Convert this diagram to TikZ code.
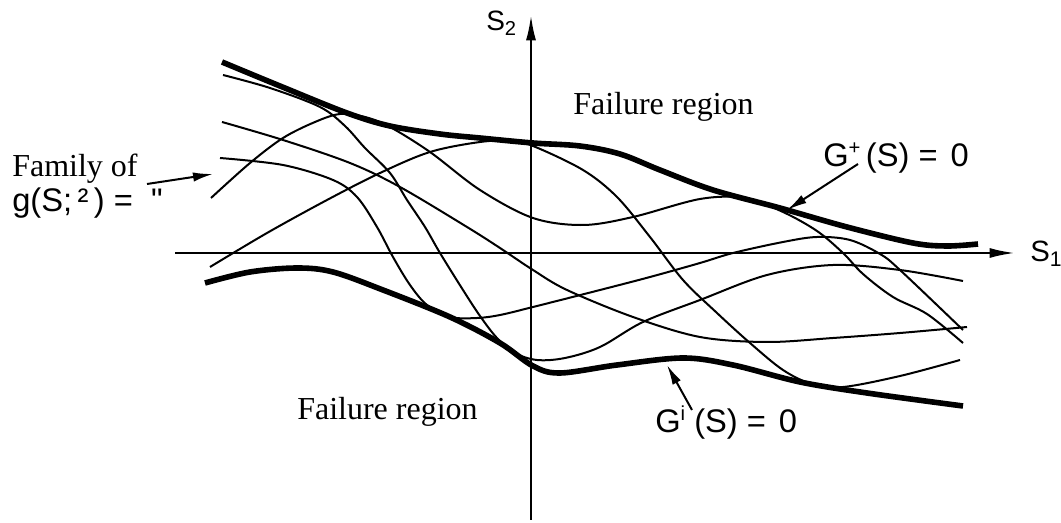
\documentclass[tikz,border=0pt]{standalone}
\usepackage{fontspec}
\setmainfont{Liberation Serif}
\setsansfont{Liberation Sans}
\newfontfamily\plainsans[Ligatures=ResetAll]{Liberation Sans}
\usetikzlibrary{arrows.meta}
\newcommand\mysub[1]{\raisebox{-0.3ex}{\scalebox{0.72}{#1}}}
\newcommand\mysup[1]{\raisebox{0.7ex}{\scalebox{0.62}{#1}}}
\begin{document}
\begin{tikzpicture}[x=0.75pt,y=-0.75pt,line join=round,
  thincurve/.style={line width=1.5pt},
  bound/.style={line width=4.2pt},
  axis/.style={line width=1.8pt,-{Latex[length=19pt,width=7.5pt]}},
  pointer/.style={line width=1.5pt,-{Latex[length=15pt,width=7pt]}},
  serif/.style={font=\fontsize{24}{28}\selectfont, inner sep=0pt, anchor=base west},
  sans/.style={font=\sffamily\fontsize{24.5}{28}\selectfont, inner sep=0pt, anchor=base west}]
\useasboundingbox (0,0) rectangle (1061,523);

% thin family of curves
\draw[thincurve] plot[smooth,tension=0.55] coordinates {(223,75) (270,88) (320,107) (345,126) (365,148) (390,173) (407,200) (425,227) (440,253) (463,290) (480,316) (497,338) (515,353) (537,360) (565,358) (600,347) (643,322) (700,300) (767,275) (833,265) (900,270) (963,281)};
\draw[thincurve] plot[smooth,tension=0.55] coordinates {(222,122) (283,140) (350,163) (400,187) (467,227) (500,248) (533,270) (567,290) (633,317) (700,337) (767,342) (833,338) (900,333) (967,327)};
\draw[thincurve] plot[smooth,tension=0.55] coordinates {(220,158) (283,165) (333,180) (357,197) (377,227) (393,257) (410,285) (427,305) (450,317) (477,318) (500,315) (533,307) (600,290) (650,277) (700,263) (733,253) (783,242) (817,237) (850,240) (880,254) (900,270) (963,330)};
\draw[thincurve] plot[smooth,tension=0.55] coordinates {(211,198) (250,163) (283,138) (315,122) (340,114) (365,117) (390,127) (430,152) (480,190) (533,218) (583,225) (633,217) (700,199) (745,198) (783,212) (817,231) (843,253) (863,274) (893,297) (927,314) (963,343)};
\draw[thincurve] plot[smooth,tension=0.55] coordinates {(210,267) (267,233) (327,200) (380,173) (430,152) (480,142) (510,141) (533,146) (583,170) (617,197) (650,237) (683,280) (717,313) (750,343) (783,370) (812,384) (843,387) (900,376) (960,360)};

% bounding limit-state curves
\draw[bound] plot[smooth,tension=0.55] coordinates {(222,62) (280,86) (347,113) (390,126) (440,134) (480,138) (533,143) (580,146) (620,154) (660,170) (713,190) (780,208) (847,227) (913,243) (947,246) (978,244)};
\draw[bound] plot[smooth,tension=0.55] coordinates {(205,283) (250,272) (297,268) (333,272) (383,290) (450,317) (500,343) (533,366) (560,373) (617,365) (683,358) (733,365) (800,382) (867,393) (963,406)};

% axes
\coordinate (xl) at (175,253);
\coordinate (xr) at (1015,253);
\coordinate (yb) at (531,520);
\coordinate (yt) at (531,15);
\draw[axis] (xl) -- (xr);
\draw[axis] (yb) -- (yt);
\node[sans,font=\sffamily\fontsize{22}{26}\selectfont] (s1) at (1030,262) {S\mysub{1}};
\node[sans,font=\sffamily\fontsize{21}{25}\selectfont] (s2) at (486,31) {S\mysub{2}};

% labels
\node[serif] (fr1) at (573,115) {Failure region};
\node[serif] (fr2) at (297,420) {Failure region};
\node[serif] (fam) at (12,177) {Family of};
\node[sans] (gfam) at (12,212) {g(S;\,²\,) =\ \ {\plainsans"}};
\node[sans] (gp) at (823,167) {G\mysup{+}\,(S) =\hspace{0.4em}0};
\node[sans] (gm) at (655,433) {G\mysup{i}\ (S) =\hspace{0.4em}0};

% pointers
\coordinate (famtail) at (147,184);
\coordinate (famtip) at (213,174);
\coordinate (gptail) at (858,164);
\coordinate (gptip) at (787,210);
\coordinate (gmtail) at (692,410);
\coordinate (gmtip) at (667,365);
\draw[pointer] (famtail) -- (famtip);
\draw[pointer] (gptail) -- (gptip);
\draw[pointer] (gmtail) -- (gmtip);
\end{tikzpicture}
\end{document}
